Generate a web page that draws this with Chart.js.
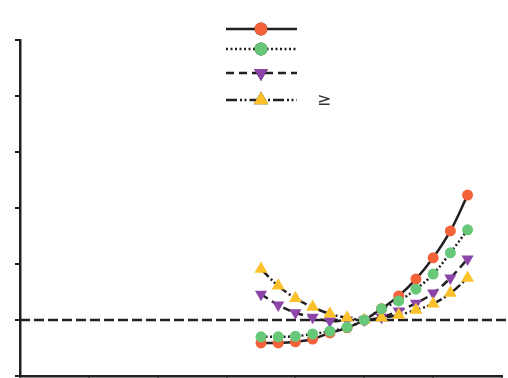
<!DOCTYPE html>
<html>
<head>
<meta charset="utf-8">
<script src="https://cdn.jsdelivr.net/npm/chart.js@4/dist/chart.umd.min.js"></script>
<style>
  html, body { margin: 0; padding: 0; background: #fff; }
  #wrap { width: 508px; height: 378px; }
</style>
</head>
<body>
<div id="wrap"><canvas id="chart" width="508" height="378"></canvas></div>
<script>
var xValues = [3.5, 3.75, 4, 4.25, 4.5, 4.75, 5, 5.25, 5.5, 5.75, 6, 6.25, 6.5]
var seriesRed = [-0.41, -0.41, -0.39, -0.34, -0.23, -0.14, 0, 0.2, 0.43, 0.73, 1.11, 1.59, 2.23]
var seriesGreen = [-0.3, -0.3, -0.29, -0.25, -0.2, -0.13, 0, 0.2, 0.34, 0.55, 0.82, 1.2, 1.61]
var seriesPurple = [0.46, 0.27, 0.13, 0.05, -0.02, 0, 0, 0.05, 0.16, 0.3, 0.48, 0.75, 1.09]
var seriesYellow = [0.91, 0.61, 0.39, 0.23, 0.11, 0.04, 0, 0.04, 0.09, 0.18, 0.29, 0.48, 0.75]
var legendLabels = ['', '', '', '\u2265']
var yTicks = [-1, 0, 1, 2, 3, 4, 5]
var xTicks = [0, 1, 2, 3, 4, 5, 6, 7]

var ink = '#231f20'

function pts(ys){
    return ys.map(function(y, i){ return {x: xValues[i], y: y} })
}

var datasets = [
    {label: legendLabels[0], data: pts(seriesRed), borderDash: [], pointStyle: 'circle', pointRadius: 5.5, color: '#f4623a', order: 3},
    {label: legendLabels[1], data: pts(seriesGreen), borderDash: [2, 2.5], pointStyle: 'circle', pointRadius: 5.5, color: '#66c878', order: 0},
    {label: legendLabels[2], data: pts(seriesPurple), borderDash: [8, 5], pointStyle: 'triangle', pointRotation: 180, pointRadius: 7, color: '#8b45a9', order: 2},
    {label: legendLabels[3], data: pts(seriesYellow), borderDash: [11, 3, 2, 2.5, 2, 3], pointStyle: 'triangle', pointRotation: 0, pointRadius: 7.5, color: '#fbc12a', order: 1}
].map(function(d){
    d.borderColor = ink
    d.borderWidth = 2.5
    d.backgroundColor = d.color
    d.pointBackgroundColor = d.color
    d.pointBorderColor = d.color
    d.pointBorderWidth = 0
    d.tension = 0.4
    d.fill = false
    return d
})

// zero reference line, runs out to the right edge of the canvas
var zeroLine = {
    id: 'zeroLine',
    beforeDatasetsDraw: function(chart){
        var ctx = chart.ctx
        var y = chart.scales.y.getPixelForValue(0)
        ctx.save()
        ctx.strokeStyle = ink
        ctx.lineWidth = 2.5
        ctx.setLineDash([10, 4])
        ctx.beginPath()
        ctx.moveTo(chart.chartArea.left, y)
        ctx.lineTo(chart.width, y)
        ctx.stroke()
        ctx.restore()
    }
}

// legend: line sample with the marker on it, then the label
var lineLegend = {
    id: 'lineLegend',
    afterDraw: function(chart){
        var ctx = chart.ctx
        var rows = [29, 49, 73, 100]
        var x0 = 226, x1 = 297, xm = 261
        chart.data.datasets.forEach(function(d, i){
            var y = rows[i]
            ctx.save()
            ctx.strokeStyle = d.borderColor
            ctx.lineWidth = d.borderWidth
            ctx.setLineDash(d.borderDash)
            ctx.beginPath()
            ctx.moveTo(x0, y)
            ctx.lineTo(x1, y)
            ctx.stroke()
            ctx.setLineDash([])
            Chart.helpers.drawPoint(ctx, {
                pointStyle: d.pointStyle,
                rotation: d.pointRotation || 0,
                radius: d.pointRadius + 1,
                borderWidth: 0
            }, xm, y)
            ctx.fillStyle = d.color
            ctx.fill()
            ctx.fillStyle = '#333'
            ctx.font = '17px "DejaVu Sans", sans-serif'
            ctx.textBaseline = 'middle'
            ctx.fillText(d.label, 317, y + 1)
            ctx.restore()
        })
    }
}

new Chart(document.getElementById('chart').getContext('2d'), {
    type: 'line',
    data: {datasets: datasets},
    options: {
        responsive: false,
        animation: false,
        layout: {autoPadding: false, padding: {left: 15, right: 6, top: 40, bottom: 0}},
        plugins: {legend: {display: false}, tooltip: {enabled: false}},
        scales: {
            x: {
                type: 'linear',
                min: xTicks[0],
                max: xTicks[xTicks.length - 1],
                afterBuildTicks: function(s){ s.ticks = xTicks.map(function(v){ return {value: v} }) },
                afterFit: function(s){ s.height = 2 },
                ticks: {display: false},
                grid: {drawOnChartArea: false, tickLength: 4, color: ink, lineWidth: 2},
                border: {color: ink, width: 2.5}
            },
            y: {
                min: yTicks[0],
                max: yTicks[yTicks.length - 1],
                afterBuildTicks: function(s){ s.ticks = yTicks.map(function(v){ return {value: v} }) },
                afterFit: function(s){ s.width = 5 },
                ticks: {display: false},
                grid: {drawOnChartArea: false, tickLength: 5, color: ink, lineWidth: 2},
                border: {color: ink, width: 2.5}
            }
        }
    },
    plugins: [zeroLine, lineLegend]
})
</script>
</body>
</html>
